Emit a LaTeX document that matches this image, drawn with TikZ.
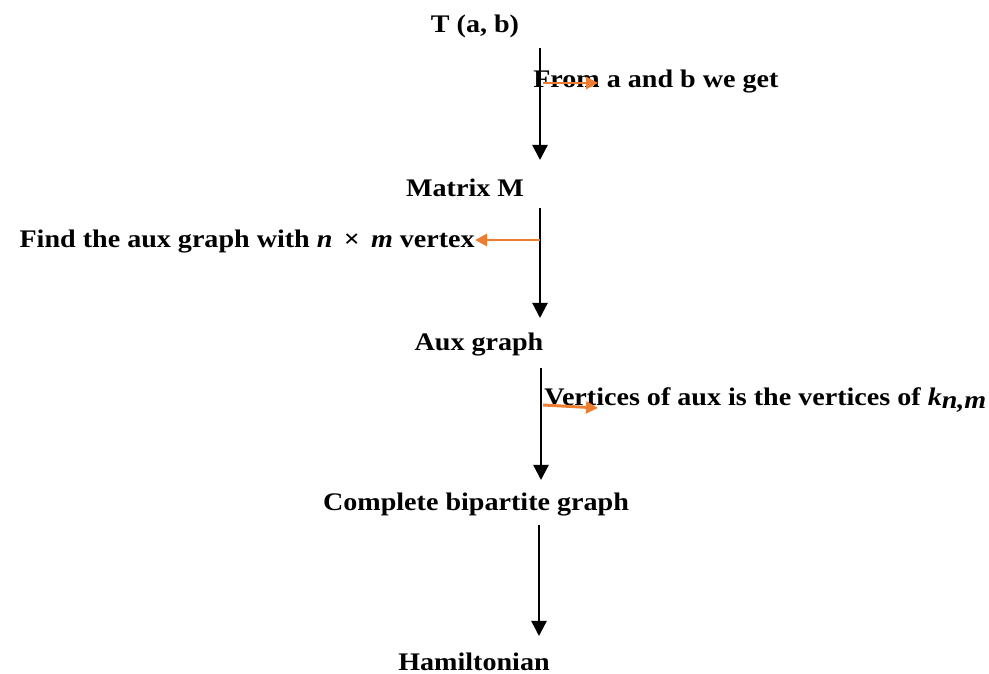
\documentclass[tikz,border=0pt]{standalone}
\usepackage{fontspec}
\setmainfont{Liberation Serif}[FakeStretch=1.11]
\usepackage{tikz}
\usetikzlibrary{arrows.meta}
\definecolor{flowor}{HTML}{ED7D31}
\tikzset{
  lbl/.style={font=\fontsize{18}{21}\selectfont\bfseries, inner sep=0pt},
  flow/.style={-{Triangle[width=0.38cm, length=0.38cm]}, line width=1.6pt, black},
  side/.style={-{Triangle[width=0.3cm, length=0.3cm]}, line width=2.1pt, flowor}
}

\begin{document}
\begin{tikzpicture}
\useasboundingbox (0,0) rectangle (24.725,-16.85);
% main chain
\node[lbl] (tab) at (11.875,-0.65) {T (a, b)};
\node[lbl] (mat) at (11.625,-4.7) {Matrix M};
\node[lbl] (aux) at (11.975,-8.62) {Aux graph};
\node[lbl] (kbip) at (11.9,-12.62) {Complete bipartite graph};
\node[lbl] (ham) at (11.85,-16.55) {Hamiltonian};
% side notes
\node[lbl, anchor=west] (getab) at (13.325,-2.05) {From a and b we get};
\node[lbl, anchor=east] (findaux) at (11.875,-6.05) {Find the aux graph with \textit{n} \,×\, \textit{m} vertex};
\node[lbl, anchor=west] (vertaux) at (13.6,-10.0) {Vertices of aux is the vertices of \textit{k}$_{\textit{n,m}}$};
% arrow ends
\coordinate (a1) at (13.5,-1.2); \coordinate (b1) at (13.5,-4.0);
\coordinate (a2) at (13.5,-5.2); \coordinate (b2) at (13.5,-7.95);
\coordinate (a3) at (13.525,-9.2); \coordinate (b3) at (13.525,-12.0);
\coordinate (a4) at (13.475,-13.125); \coordinate (b4) at (13.475,-15.9);
\draw[flow] (a1) -- (b1);
\draw[flow] (a2) -- (b2);
\draw[flow] (a3) -- (b3);
\draw[flow] (a4) -- (b4);
% orange pointers
\coordinate (o1) at (13.575,-2.075); \coordinate (p1) at (14.95,-2.075);
\coordinate (o2) at (13.5,-6.0);
\coordinate (o3) at (13.575,-10.125); \coordinate (p3) at (14.95,-10.2);
\draw[side] (o1) -- (p1);
\draw[side] (o2) -- (o2 -| findaux.east);
\draw[side] (o3) -- (p3);
\end{tikzpicture}
\end{document}
